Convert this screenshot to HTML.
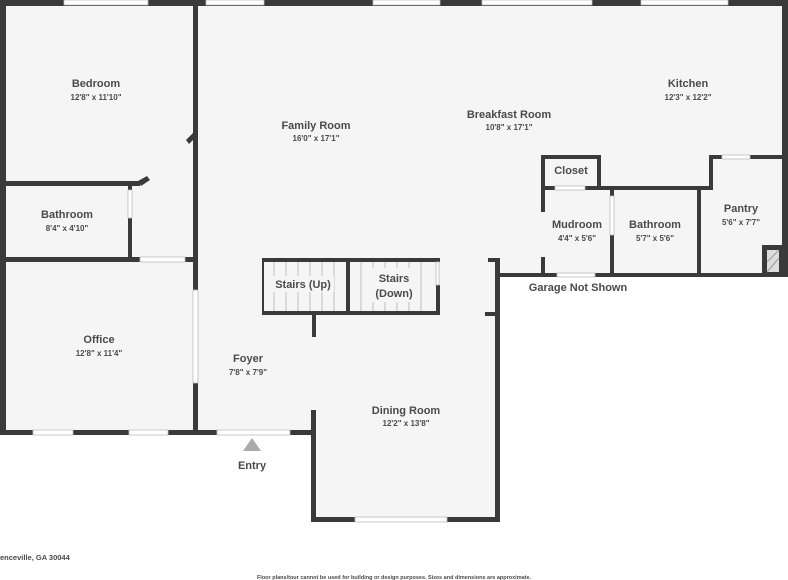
<!DOCTYPE html><html><head><style>body{margin:0;background:#fff}svg{display:block}
text{font-family:"Liberation Sans",sans-serif;fill:#4a4a4a;text-anchor:middle}
.n{font-size:11px;font-weight:bold}.d{font-size:8px;font-weight:bold}</style></head><body>
<svg width="788" height="580" viewBox="0 0 788 580">
<g fill="#f5f5f5"><rect x="0" y="0" width="788" height="275"/><rect x="0" y="0" width="500" height="433"/><rect x="312" y="0" width="188" height="520"/></g>
<g fill="#3a3a3a">
<rect x="0" y="0" width="788" height="6"/><rect x="0" y="0" width="6" height="435"/><rect x="782" y="0" width="6" height="277"/>
<rect x="193" y="0" width="5" height="290"/><rect x="193" y="383" width="5" height="52"/>
<rect x="0" y="181" width="140" height="5"/><polygon points="138,181 147,176 150,180 141,186"/>
<polygon points="186,140 193,133 193,140 189,144"/>
<rect x="0" y="257" width="140" height="5"/><rect x="185" y="257" width="13" height="5"/>
<rect x="128" y="186" width="4" height="4"/><rect x="128" y="218" width="4" height="42"/>
<rect x="0" y="430" width="217" height="5"/><rect x="290" y="430" width="26" height="5"/>
<rect x="311" y="410" width="5" height="112"/><rect x="311" y="517" width="189" height="5"/><rect x="495" y="258" width="5" height="264"/>
<rect x="485" y="312" width="12" height="4"/><rect x="488" y="258" width="10" height="4"/>
<rect x="500" y="273" width="57" height="4"/><rect x="595" y="273" width="193" height="4"/>
<rect x="541" y="155" width="4" height="57"/><rect x="541" y="257" width="4" height="20"/>
<rect x="541" y="155" width="60" height="4"/><rect x="597" y="155" width="4" height="35"/>
<rect x="541" y="186" width="14" height="4"/><rect x="585" y="186" width="128" height="4"/>
<rect x="610" y="190" width="4" height="6"/><rect x="610" y="235" width="4" height="42"/>
<rect x="697" y="190" width="4" height="87"/>
<rect x="709" y="155" width="4" height="35"/><rect x="709" y="155" width="13" height="4"/><rect x="750" y="155" width="35" height="4"/>
<rect x="762" y="245" width="20" height="30"/>
<rect x="262" y="258" width="178" height="4"/><rect x="262" y="311" width="178" height="4"/><rect x="346" y="258" width="4" height="57"/><rect x="262" y="258" width="2" height="57"/><rect x="436" y="285" width="4" height="30"/>
<rect x="312" y="315" width="4" height="22"/>
</g>
<rect x="767" y="250" width="12" height="22" fill="#ddd"/><path d="M767 262 L779 250 M767 272 L779 258" stroke="#999"/>
<g fill="#fff" stroke="#bbb" stroke-width="0.8">
<rect x="64" y="0" width="84" height="5"/><rect x="206" y="0" width="58" height="5"/><rect x="373" y="0" width="67" height="5"/><rect x="482" y="0" width="110" height="5"/><rect x="641" y="0" width="87" height="5"/>
<rect x="33" y="430" width="40" height="5"/><rect x="129" y="430" width="39" height="5"/><rect x="217" y="430" width="73" height="5"/>
<rect x="355" y="517" width="92" height="5"/><rect x="193" y="290" width="5" height="93"/>
<rect x="140" y="257" width="45" height="5"/><rect x="128" y="190" width="4" height="28"/>
<rect x="555" y="186" width="30" height="4"/><rect x="610" y="196" width="4" height="39"/><rect x="722" y="155" width="28" height="4"/><rect x="557" y="273" width="38" height="4"/>
<rect x="436" y="262" width="3" height="23"/>
</g>
<g stroke="#aaa" stroke-width="0.7">
<path d="M274 262V311M286 262V311M298 262V311M310 262V311M322 262V311M334 262V311M361 262V311M373 262V311M385 262V311M397 262V311M409 262V311M421 262V311"/></g>
<rect x="272" y="276" width="62" height="16" fill="#f5f5f5"/><rect x="368" y="268" width="52" height="34" fill="#f5f5f5"/>
<polygon points="252,438 243,451 261,451" fill="#aaa"/>
<text class="n" x="96" y="87">Bedroom</text><text class="d" x="96" y="100">12'8" x 11'10"</text>
<text class="n" x="67" y="218">Bathroom</text><text class="d" x="67" y="231">8'4" x 4'10"</text>
<text class="n" x="99" y="343">Office</text><text class="d" x="99" y="356">12'8" x 11'4"</text>
<text class="n" x="316" y="129">Family Room</text><text class="d" x="316" y="141">16'0" x 17'1"</text>
<text class="n" x="509" y="118">Breakfast Room</text><text class="d" x="509" y="130">10'8" x 17'1"</text>
<text class="n" x="688" y="87">Kitchen</text><text class="d" x="688" y="100">12'3" x 12'2"</text>
<text class="n" x="571" y="174">Closet</text>
<text class="n" x="577" y="228">Mudroom</text><text class="d" x="577" y="241">4'4" x 5'6"</text>
<text class="n" x="655" y="228">Bathroom</text><text class="d" x="655" y="241">5'7" x 5'6"</text>
<text class="n" x="741" y="212">Pantry</text><text class="d" x="741" y="225">5'6" x 7'7"</text>
<text class="n" x="303" y="288">Stairs (Up)</text>
<text class="n" x="394" y="282">Stairs</text><text class="n" x="394" y="297">(Down)</text>
<text class="n" x="578" y="291">Garage Not Shown</text>
<text class="n" x="248" y="362">Foyer</text><text class="d" x="248" y="375">7'8" x 7'9"</text>
<text class="n" x="406" y="414">Dining Room</text><text class="d" x="406" y="426">12'2" x 13'8"</text>
<text class="n" x="252" y="469">Entry</text>
<text x="0" y="560" style="font-size:7.5px;font-weight:bold;text-anchor:start">enceville, GA 30044</text>
<text x="394" y="579" style="font-size:5.5px;font-weight:bold">Floor plans/tour cannot be used for building or design purposes. Sizes and dimensions are approximate.</text>
</svg></body></html>
